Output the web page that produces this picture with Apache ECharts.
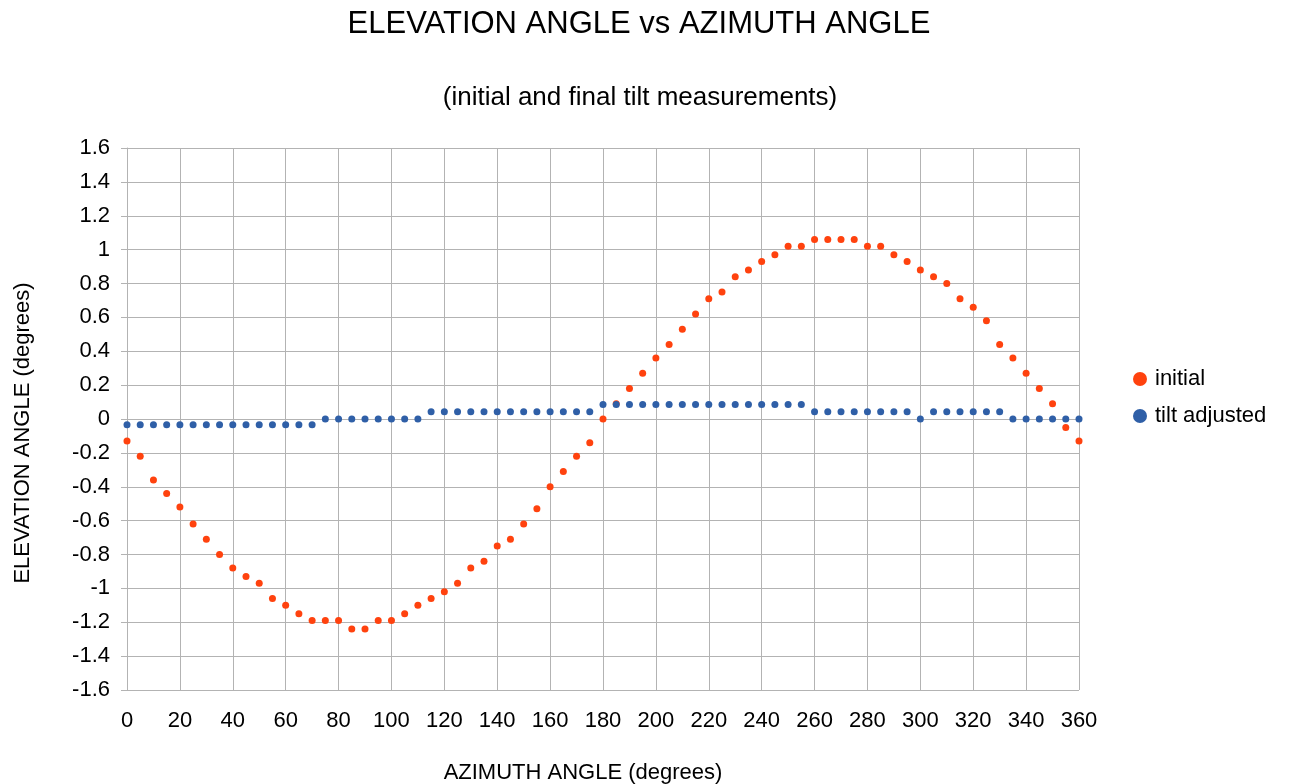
<!DOCTYPE html>
<html>
<head>
<meta charset="utf-8">
<script src="https://cdn.jsdelivr.net/npm/echarts@6/dist/echarts.min.js"></script>
<style>html,body{margin:0;padding:0;background:#fff}#c{width:1292px;height:784px}</style>
</head>
<body>
<div id="c"></div>
<script>
var azimuth = [];
for (var a = 0; a <= 360; a += 5) azimuth.push(a);

var initialValues = [
  -0.13, -0.22, -0.36, -0.44, -0.52, -0.62, -0.71, -0.80, -0.88, -0.93,
  -0.97, -1.06, -1.10, -1.15, -1.19, -1.19, -1.19, -1.24, -1.24, -1.19,
  -1.19, -1.15, -1.10, -1.06, -1.02, -0.97, -0.88, -0.84, -0.75, -0.71,
  -0.62, -0.53, -0.40, -0.31, -0.22, -0.14, 0.00, 0.09, 0.18, 0.27,
  0.36, 0.44, 0.53, 0.62, 0.71, 0.75, 0.84, 0.88, 0.93, 0.97,
  1.02, 1.02, 1.06, 1.06, 1.06, 1.06, 1.02, 1.02, 0.97, 0.93,
  0.88, 0.84, 0.80, 0.71, 0.66, 0.58, 0.44, 0.36, 0.27, 0.18,
  0.09, -0.05, -0.13
];

var tiltAdjustedValues = [
  -0.034, -0.034, -0.034, -0.034, -0.034, -0.034, -0.034, -0.034, -0.034, -0.034,
  -0.034, -0.034, -0.034, -0.034, -0.034, 0, 0, 0, 0, 0,
  0, 0, 0, 0.043, 0.043, 0.043, 0.043, 0.043, 0.043, 0.043,
  0.043, 0.043, 0.043, 0.043, 0.043, 0.043, 0.086, 0.086, 0.086, 0.086,
  0.086, 0.086, 0.086, 0.086, 0.086, 0.086, 0.086, 0.086, 0.086, 0.086,
  0.086, 0.086, 0.043, 0.043, 0.043, 0.043, 0.043, 0.043, 0.043, 0.043,
  0, 0.043, 0.043, 0.043, 0.043, 0.043, 0.043, 0, 0, 0,
  0, 0, 0
];

var xTicks = { min: 0, max: 360, interval: 20 };
var yTicks = { min: -1.6, max: 1.6, interval: 0.2 };

function pairs(xs, ys) { return xs.map(function (x, i) { return [x, ys[i]]; }); }

var font = 'Liberation Sans, Arial, sans-serif';
var gridColor = '#b3b3b3';

var chart = echarts.init(document.getElementById('c'), null, { renderer: 'canvas' });
chart.setOption({
  backgroundColor: '#fff',
  animation: false,
  title: [
    { text: 'ELEVATION ANGLE vs AZIMUTH ANGLE', left: 634, top: 3, textAlign: 'center',
      textStyle: { fontFamily: font, fontSize: 31, fontWeight: 'normal', color: '#000', lineHeight: 32 } },
    { text: '(initial and final tilt measurements)', left: 635, top: 80, textAlign: 'center',
      textStyle: { fontFamily: font, fontSize: 26, fontWeight: 'normal', color: '#000', lineHeight: 26 } }
  ],
  legend: {
    orient: 'vertical', left: 1133, top: 368, padding: 0,
    itemWidth: 14, itemHeight: 14, itemGap: 15, icon: 'circle',
    textStyle: { fontFamily: font, fontSize: 22, color: '#000', padding: [0, 0, 0, 3] },
    data: ['initial', 'tilt adjusted']
  },
  grid: { left: 127, right: 213, top: 148, bottom: 94, containLabel: false, outerBoundsMode: 'none' },
  xAxis: {
    type: 'value', min: xTicks.min, max: xTicks.max, interval: xTicks.interval,
    name: 'AZIMUTH ANGLE (degrees)', nameLocation: 'middle', nameGap: 72,
    nameTextStyle: { fontFamily: font, fontSize: 22, color: '#000', padding: [0, 40, 0, 0] },
    axisLine: { show: true, lineStyle: { color: gridColor, width: 1 } },
    axisTick: { show: true, length: 6, lineStyle: { color: gridColor } },
    axisLabel: { fontFamily: font, fontSize: 22, color: '#000', margin: 20 },
    splitLine: { show: true, lineStyle: { color: gridColor, width: 1 } }
  },
  yAxis: {
    type: 'value', min: yTicks.min, max: yTicks.max, interval: yTicks.interval,
    name: 'ELEVATION ANGLE (degrees)', nameLocation: 'middle', nameGap: 93,
    nameTextStyle: { fontFamily: font, fontSize: 22, color: '#000', padding: [0, 28, 0, 0] },
    axisLine: { show: true, onZero: false, lineStyle: { color: gridColor, width: 1 } },
    axisTick: { show: true, length: 6, lineStyle: { color: gridColor } },
    axisLabel: { fontFamily: font, fontSize: 22, color: '#000', margin: 17 },
    splitLine: { show: true, lineStyle: { color: gridColor, width: 1 } }
  },
  series: [
    { name: 'initial', type: 'scatter', symbol: 'circle', symbolSize: 7,
      itemStyle: { color: '#ff420e', opacity: 1 }, data: pairs(azimuth, initialValues) },
    { name: 'tilt adjusted', type: 'scatter', symbol: 'circle', symbolSize: 7,
      itemStyle: { color: '#2f5fa7', opacity: 1 }, data: pairs(azimuth, tiltAdjustedValues) }
  ]
});
</script>
</body>
</html>
